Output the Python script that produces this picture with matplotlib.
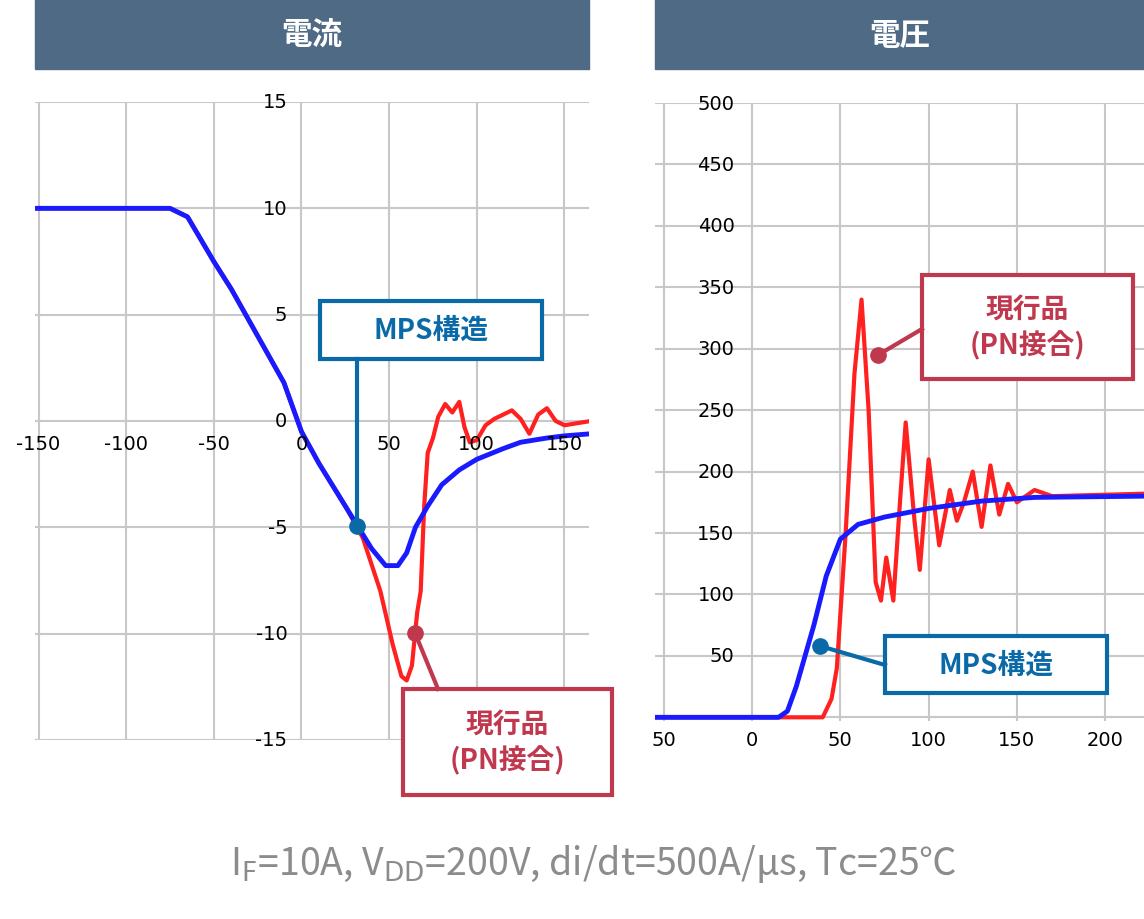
import matplotlib
matplotlib.use("Agg")
import matplotlib.pyplot as plt
from matplotlib.patches import Rectangle

plt.rcParams["font.family"] = ["Noto Sans CJK JP"]

# current panel data
cur_x_blue = [-152, -75, -65, -50, -40, -25, -10, 0, 10, 25, 40, 48, 55, 60, 65, 72, 80, 90, 100, 115, 125, 140, 150, 165]
cur_y_blue = [10, 10, 9.6, 7.5, 6.2, 4, 1.8, -0.5, -2, -4, -6, -6.8, -6.8, -6.2, -5, -4, -3, -2.3, -1.8, -1.3, -1, -0.8, -0.7, -0.6]
cur_x_red = [-152, -75, -65, -50, -40, -25, -10, 0, 10, 25, 35, 45, 52, 57, 60, 63, 66, 68, 70, 72, 75, 78, 82, 86, 90, 93, 96, 100, 105, 110, 115, 120, 125, 130, 135, 140, 145, 150, 165]
cur_y_red = [10, 10, 9.6, 7.5, 6.2, 4, 1.8, -0.5, -2, -4, -5.5, -8, -10.5, -12, -12.2, -11.5, -9, -8, -4, -1.5, -0.8, 0.2, 0.8, 0.4, 0.9, -0.3, -1, -0.9, -0.2, 0.1, 0.3, 0.5, 0.1, -0.6, 0.3, 0.6, 0, -0.2, 0]

# voltage panel data
vol_x_blue = [-55, 15, 20, 25, 30, 35, 42, 50, 60, 75, 100, 130, 160, 222]
vol_y_blue = [0, 0, 5, 25, 50, 75, 115, 145, 157, 163, 170, 176, 179, 180]
vol_x_red = [-55, 40, 45, 48, 53, 58, 62, 66, 70, 73, 76, 80, 84, 87, 92, 95, 100, 106, 112, 116, 120, 125, 130, 135, 140, 145, 150, 160, 170, 222]
vol_y_red = [0, 0, 15, 40, 150, 280, 340, 250, 110, 95, 130, 95, 180, 240, 160, 120, 210, 140, 185, 160, 175, 200, 155, 205, 165, 190, 175, 185, 180, 182]

W, H = 1144, 920
fig = plt.figure(figsize=(W/100, H/100), dpi=100)

def ax_rect(x0, y0, x1, y1):
    return [x0/W, 1-y1/H, (x1-x0)/W, (y1-y0)/H]

hdr = "#4e6a85"
for (x0, x1, t) in [(35, 589, "電流"), (655, 1144, "電圧")]:
    fig.patches.append(Rectangle((x0/W, 1-70/H), (x1-x0)/W, 70/H, transform=fig.transFigure, color=hdr))
    fig.text((x0+x1)/2/W, 1-36/H, t, color="white", fontsize=22, fontweight="bold", ha="center", va="center")

grid_c = "#c8c8c8"
# left axes
ax1 = fig.add_axes(ax_rect(35, 103, 589, 741))
ax1.set_xlim(-152, 164)
ax1.set_ylim(-15, 15)
ax1.set_xticks([-150, -100, -50, 0, 50, 100, 150])
ax1.set_yticks([-15, -10, -5, 0, 5, 10, 15])
ax1.grid(True, color=grid_c, lw=1.5)
for s in ax1.spines.values():
    s.set_visible(False)
ax1.tick_params(length=0, labelbottom=False, labelleft=False)
for v in [-150, -100, -50, 0, 50, 100, 150]:
    ax1.text(v, -0.6, str(v) if v != 0 else "0", ha="center", va="top", fontsize=14, family="DejaVu Sans")
for v in [-15, -10, -5, 0, 5, 10, 15]:
    ax1.text(-8, v, str(v), ha="right", va="center", fontsize=14, family="DejaVu Sans")
ax1.plot(cur_x_red, cur_y_red, color="#ff2020", lw=3)
ax1.plot(cur_x_blue, cur_y_blue, color="#1a1aff", lw=3.5)

# right axes
ax2 = fig.add_axes(ax_rect(655, 104, 1144, 722))
ax2.set_xlim(-55, 222)
ax2.set_ylim(-3, 500)
ax2.set_xticks([-50, 0, 50, 100, 150, 200])
ax2.set_yticks([0, 50, 100, 150, 200, 250, 300, 350, 400, 450, 500])
ax2.grid(True, color=grid_c, lw=1.5)
for s in ax2.spines.values():
    s.set_visible(False)
ax2.tick_params(length=0, labelbottom=False, labelleft=False)
for v in [0, 50, 100, 150, 200]:
    ax2.text(v, -10, str(v), ha="center", va="top", fontsize=14, family="DejaVu Sans")
ax2.text(-50, -10, "50", ha="center", va="top", fontsize=14, family="DejaVu Sans")
for v in range(50, 501, 50):
    ax2.text(-10, v, str(v), ha="right", va="center", fontsize=14, family="DejaVu Sans")
ax2.plot(vol_x_red, vol_y_red, color="#ff2020", lw=3)
ax2.plot(vol_x_blue, vol_y_blue, color="#1a1aff", lw=3.5)

blue_c = "#0a6aa8"
red_c = "#c0384e"

def box(x0, y0, x1, y1, col, txt, fs=20):
    fig.patches.append(Rectangle((x0/W, 1-y1/H), (x1-x0)/W, (y1-y0)/H, transform=fig.transFigure,
                                 facecolor="white", edgecolor=col, lw=3))
    fig.text((x0+x1)/2/W, 1-(y0+y1)/2/H, txt, color=col, fontsize=fs, fontweight="bold",
             ha="center", va="center", linespacing=1.3)

def pointer(px, py, qx, qy, col):
    fig.add_artist(plt.Line2D([px/W, qx/W], [1-py/H, 1-qy/H], transform=fig.transFigure, color=col, lw=3))
    fig.add_artist(plt.Line2D([px/W], [1-py/H], transform=fig.transFigure, marker="o", ms=11, color=col))

pointer(357, 527, 357, 360, blue_c)
box(320, 302, 542, 360, blue_c, "MPS構造")
pointer(415, 634, 438, 690, red_c)
box(403, 690, 612, 796, red_c, "現行品\n(PN接合)")
pointer(878, 356, 922, 330, red_c)
box(922, 276, 1133, 380, red_c, "現行品\n(PN接合)")
pointer(820, 647, 885, 666, blue_c)
box(885, 637, 1107, 694, blue_c, "MPS構造")

fig.text(593/W, 1-864/H, r"I$_\mathrm{F}$=10A, V$_\mathrm{DD}$=200V, di/dt=500A/μs, Tc=25℃",
         color="#8c8c8c", fontsize=27, ha="center", va="center")

fig.savefig("out.png", dpi=100)
